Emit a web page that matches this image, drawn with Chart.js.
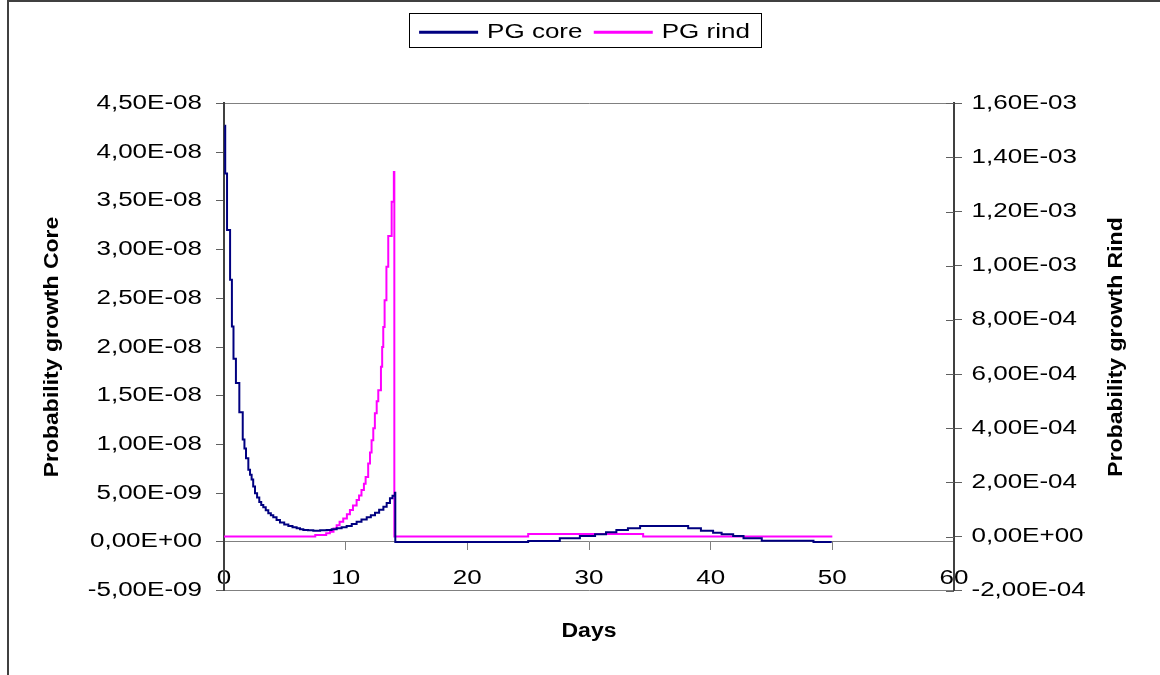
<!DOCTYPE html>
<html>
<head>
<meta charset="utf-8">
<script src="https://cdn.jsdelivr.net/npm/chart.js@4.4.1/dist/chart.umd.min.js"></script>
<style>
  html, body { margin: 0; padding: 0; background: #fff; }
  canvas { display: block; }
</style>
</head>
<body>
<canvas id="chart" width="1160" height="675"></canvas>
<script>
// values; each point starts a step
const coreDays = [0.06, 0.1, 0.25, 0.5, 0.65, 0.78, 0.98, 1.26,
  1.54, 1.68, 1.81, 2.0, 2.14, 2.27, 2.4, 2.55, 2.72, 2.9, 3.06, 3.23, 3.43, 3.64, 3.85, 4.05, 4.32, 4.6, 4.95, 5.29,
  5.63, 5.97, 6.25, 6.52, 6.9, 7.34, 7.9, 8.44, 8.85, 9.26, 9.67, 10.08, 10.5, 10.9, 11.3, 11.73, 12.07, 12.41, 12.75, 13.1,
  13.37, 13.64, 13.85, 14.05, 14.08,
  25.0, 27.6, 29.25, 30.5, 31.4, 32.25, 33.2, 34.2, 38.15, 39.2, 40.2, 40.9, 41.85, 42.7, 44.2, 48.45, 49.95];
const coreValues = [4.27e-8, 3.78e-8, 3.2e-8, 2.69e-8, 2.21e-8, 1.88e-8, 1.63e-8, 1.33e-8,
  1.05e-8, 9.6e-9, 8.6e-9, 7.4e-9, 6.9e-9, 6.4e-9, 5.7e-9, 5.0e-9, 4.55e-9, 4.1e-9, 3.8e-9, 3.56e-9, 3.25e-9, 2.94e-9, 2.73e-9, 2.53e-9, 2.25e-9, 2.0e-9, 1.8e-9, 1.64e-9,
  1.5e-9, 1.4e-9, 1.3e-9, 1.23e-9, 1.19e-9, 1.16e-9, 1.19e-9, 1.23e-9, 1.3e-9, 1.4e-9, 1.5e-9, 1.64e-9, 1.85e-9, 2.08e-9, 2.3e-9, 2.53e-9, 2.75e-9, 3.0e-9, 3.3e-9, 3.62e-9,
  4.0e-9, 4.48e-9, 4.75e-9, 5.06e-9, 0,
  1e-10, 3.8e-10, 6e-10, 8e-10, 1.0e-9, 1.23e-9, 1.4e-9, 1.64e-9, 1.4e-9, 1.16e-9, 9.5e-10, 7.9e-10, 6e-10, 3.8e-10, 1.3e-10, 0, 0];

const rindDays = [0, 7.5, 8.4, 8.7, 9.0, 9.26, 9.5, 9.8, 10.1, 10.35, 10.6, 10.9, 11.1, 11.3, 11.5, 11.64, 11.85, 12.0, 12.13, 12.27,
  12.4, 12.55, 12.68, 12.9, 13.0, 13.09, 13.2, 13.35, 13.5, 13.78, 13.96, 14.0, 25.0, 34.45, 50.0];
const rindValues = [0, 6e-6, 1.2e-5, 1.8e-5, 3e-5, 4.2e-5, 5.5e-5, 6.7e-5, 8.2e-5, 9.8e-5, 1.15e-4, 1.35e-4, 1.52e-4, 1.72e-4, 1.95e-4, 2.2e-4, 2.7e-4, 3.1e-4, 3.56e-4, 4.0e-4,
  4.55e-4, 5.0e-4, 5.4e-4, 6.27e-4, 7.0e-4, 7.74e-4, 8.73e-4, 9.96e-4, 1.11e-3, 1.236e-3, 1.346e-3, 0, 9e-6, 0, 0];

// axis ranges: [min, max, step]
const dayAxis = [0, 60, 10];
const coreAxis = [-5e-9, 4.5e-8, 5e-9];
const rindAxis = [-2e-4, 1.6e-3, 2e-4];

const FONT = 'Arial, "Liberation Sans", sans-serif';
const PLOT_TOP = 103.3, PLOT_BOTTOM = 590.7, PLOT_LEFT = 224, PLOT_RIGHT = 954;

// the source renders its text wider than Arial, so stretch glyphs along the text line
const canvas = document.getElementById('chart');
const ctx = canvas.getContext('2d');
const baseFill = ctx.fillText;
const baseMeasure = ctx.measureText;
function widen(font) { return /bold|700/.test(font) ? 1.15 : 1.3; }
ctx.fillText = function (text, x, y) {
  const k = widen(this.font);
  this.save();
  this.translate(x, y);
  this.scale(k, 1);
  baseFill.call(this, text, 0, 0);
  this.restore();
};
ctx.measureText = function (text) {
  const m = baseMeasure.call(this, text);
  return {
    width: m.width * widen(this.font),
    actualBoundingBoxAscent: m.actualBoundingBoxAscent,
    actualBoundingBoxDescent: m.actualBoundingBoxDescent,
    actualBoundingBoxLeft: m.actualBoundingBoxLeft,
    actualBoundingBoxRight: m.actualBoundingBoxRight
  };
};

// excel style 4,50E-08
function sci(v, step) {
  if (Math.abs(v) < step / 1000) v = 0;
  const parts = v.toExponential(2).split('e');
  const exp = parseInt(parts[1], 10);
  return parts[0].replace('.', ',') + 'E' + (exp < 0 ? '-' : '+') + String(Math.abs(exp)).padStart(2, '0');
}

const extras = {
  id: 'extras',
  beforeDraw(chart) {
    const c = chart.ctx;
    c.save();
    c.fillStyle = '#fff';
    c.fillRect(0, 0, chart.width, chart.height);
    c.strokeStyle = '#404040';
    c.lineWidth = 2;
    c.beginPath();
    c.moveTo(8, chart.height);
    c.lineTo(8, 1);
    c.lineTo(chart.width, 1);
    c.stroke();
    c.restore();
  },
  afterDraw(chart) {
    const c = chart.ctx;
    const a = chart.chartArea;
    c.save();
    c.strokeStyle = '#000';
    c.lineWidth = 1;
    c.strokeRect(409.5, 13.5, 352, 34);
    // right-axis inner tick halves (the source ticks cross the axis)
    const y1 = chart.scales.y1;
    c.strokeStyle = '#606060';
    c.beginPath();
    y1.ticks.forEach(t => {
      const py = Math.round(y1.getPixelForValue(t.value)) + 0.5;
      c.moveTo(a.right - 8, py);
      c.lineTo(a.right, py);
    });
    c.stroke();
    // right title reads bottom-to-top like the left one
    c.translate(1116, (a.top + a.bottom) / 2);
    c.rotate(-Math.PI / 2);
    c.font = 'bold 20px ' + FONT;
    c.fillStyle = '#000';
    c.textAlign = 'center';
    c.textBaseline = 'middle';
    c.fillText('Probability growth Rind', 0, 0);
    c.restore();
  }
};

new Chart(ctx, {
  type: 'line',
  data: {
    datasets: [
      {
        label: 'PG core',
        data: coreDays.map((d, i) => ({ x: d, y: coreValues[i] })),
        borderColor: '#000080',
        backgroundColor: '#000080',
        borderWidth: 2,
        pointRadius: 0,
        stepped: 'before',
        xAxisID: 'x',
        yAxisID: 'y'
      },
      {
        label: 'PG rind',
        data: rindDays.map((d, i) => ({ x: d, y: rindValues[i] })),
        borderColor: '#FF00FF',
        backgroundColor: '#FF00FF',
        borderWidth: 2,
        pointRadius: 0,
        stepped: 'before',
        xAxisID: 'x',
        yAxisID: 'y1'
      }
    ]
  },
  options: {
    responsive: false,
    animation: false,
    layout: { padding: { left: 10, top: 10, right: 0, bottom: 0 } },
    plugins: {
      legend: {
        display: true,
        position: 'top',
        labels: {
          boxWidth: 57,
          boxHeight: 1,
          padding: 12.3,
          color: '#000',
          font: { family: FONT, size: 20 }
        }
      },
      tooltip: { enabled: false }
    },
    scales: {
      x: {
        type: 'linear',
        position: { y: 0 },
        min: dayAxis[0],
        max: dayAxis[1],
        ticks: { stepSize: dayAxis[2], color: '#000', padding: 16.3, maxRotation: 0, font: { family: FONT, size: 20 } },
        grid: { display: true, drawOnChartArea: false, drawTicks: true, tickLength: 8, color: '#808080' },
        border: { color: '#808080', width: 1 }
      },
      xTop: {
        type: 'linear',
        position: 'top',
        min: dayAxis[0],
        max: dayAxis[1],
        ticks: { display: false },
        grid: { display: false },
        border: { display: true, color: '#808080', width: 1 },
        afterFit(s) { s.height = PLOT_TOP - 10 - s.chart.legend.height; }
      },
      xBottom: {
        type: 'linear',
        position: 'bottom',
        min: dayAxis[0],
        max: dayAxis[1],
        ticks: { display: false },
        grid: { display: false },
        border: { display: true, color: '#808080', width: 1 },
        title: { display: true, text: 'Days', color: '#000', font: { family: FONT, size: 20, weight: 'bold' }, padding: { top: 0, bottom: 32 } },
        afterFit(s) { s.height = 675 - PLOT_BOTTOM; }
      },
      y: {
        type: 'linear',
        position: 'left',
        min: coreAxis[0],
        max: coreAxis[1],
        ticks: { stepSize: coreAxis[2], color: '#000', padding: 14, font: { family: FONT, size: 20 }, callback: v => sci(v, coreAxis[2]) },
        grid: { display: true, drawOnChartArea: false, drawTicks: true, tickLength: 8, color: '#606060' },
        border: { color: '#404040', width: 2 },
        title: { display: true, text: 'Probability growth Core', color: '#000', font: { family: FONT, size: 20, weight: 'bold' }, padding: { top: 30, bottom: 0 } },
        afterFit(s) { s.width = PLOT_LEFT - 10; }
      },
      y1: {
        type: 'linear',
        position: 'right',
        min: rindAxis[0],
        max: rindAxis[1],
        ticks: { stepSize: rindAxis[2], color: '#000', padding: 9.5, font: { family: FONT, size: 20 }, callback: v => sci(v, rindAxis[2]) },
        grid: { display: true, drawOnChartArea: false, drawTicks: true, tickLength: 8, color: '#606060' },
        border: { color: '#404040', width: 2 },
        afterFit(s) { s.width = 1160 - PLOT_RIGHT; }
      }
    }
  },
  plugins: [extras]
});
</script>
</body>
</html>
